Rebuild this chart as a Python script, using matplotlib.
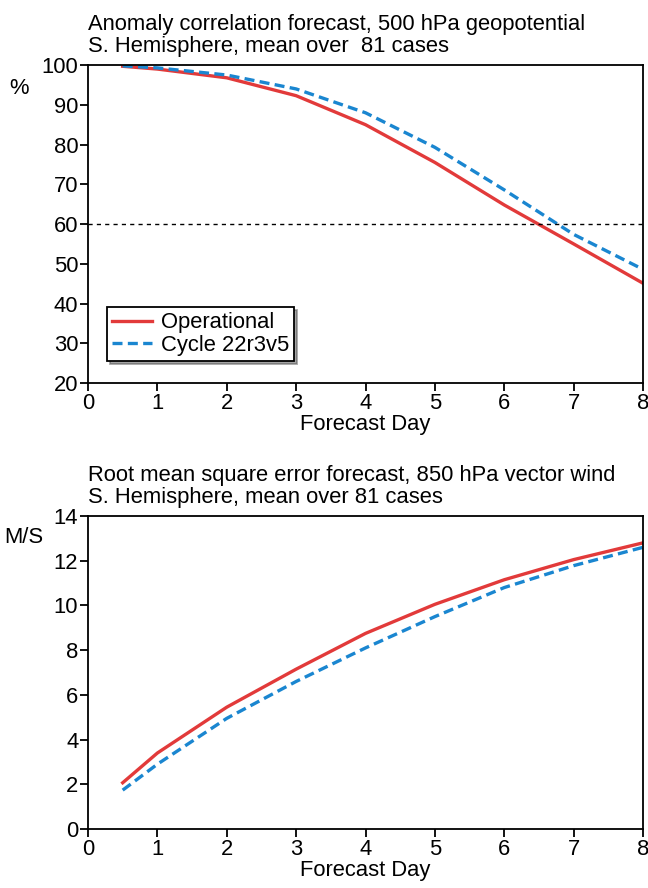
import matplotlib.pyplot as plt

plt.rcParams['font.family'] = ['Liberation Sans', 'DejaVu Sans']

days = [0.5, 1, 2, 3, 4, 5, 6, 7, 8]

# anomaly correlation, 500 hPa geopotential (%)
acc_oper = [99.7, 99.0, 96.8, 92.3, 85.0, 75.5, 64.8, 55.0, 45.1]
acc_new = [99.8, 99.3, 97.5, 94.0, 88.0, 79.3, 68.6, 57.4, 48.6]

# rms error, 850 hPa vector wind (m/s)
rms_oper = [2.07, 3.4, 5.45, 7.15, 8.75, 10.05, 11.15, 12.05, 12.8]
rms_new = [1.74, 2.9, 4.95, 6.6, 8.1, 9.5, 10.8, 11.78, 12.6]

series_names = ['Operational', 'Cycle 22r3v5']
red = '#e23a3a'
blue = '#1a86d0'
fs = 15.8

fig = plt.figure(figsize=(6.48, 8.88), dpi=100)
ax1 = fig.add_axes([0.1358, 0.5687, 0.8565, 0.358])
ax2 = fig.add_axes([0.1358, 0.0664, 0.8565, 0.3525])

for ax in (ax1, ax2):
    for s in ax.spines.values():
        s.set_linewidth(1.3)
    ax.tick_params(direction='out', length=6, width=1.3, labelsize=fs, pad=1)
    ax.set_xlim(0, 8)
    ax.set_xticks(range(0, 9))
    ax.set_xlabel('Forecast Day', fontsize=fs, labelpad=0)

# top panel
ax1.plot(days, acc_oper, color=red, lw=2.4, label=series_names[0])
ax1.plot(days, acc_new, color=blue, lw=2.4, ls=(0, (3, 1.6)), label=series_names[1])
ax1.axhline(60, color='black', lw=1, ls=(0, (3, 3)))
ax1.set_ylim(20, 100)
ax1.set_yticks(range(20, 101, 10))
ax1.text(-0.125, 0.925, '%', transform=ax1.transAxes, fontsize=fs, ha='center', va='center')
ax1.text(0, 1.025, 'Anomaly correlation forecast, 500 hPa geopotential\nS. Hemisphere, mean over  81 cases',
         transform=ax1.transAxes, fontsize=fs, ha='left', va='bottom', linespacing=1.1)
leg = ax1.legend(loc='lower left', bbox_to_anchor=(0.034, 0.069), borderaxespad=0,
                 fancybox=False, shadow=True, edgecolor='black', fontsize=fs,
                 handlelength=1.8, handletextpad=0.4, borderpad=0.25, labelspacing=0.05,
                 framealpha=1)
leg.get_frame().set_linewidth(1.3)

# bottom panel
ax2.plot(days, rms_oper, color=red, lw=2.4)
ax2.plot(days, rms_new, color=blue, lw=2.4, ls=(0, (3, 1.6)))
ax2.set_ylim(0, 14)
ax2.set_yticks(range(0, 15, 2))
ax2.text(-0.115, 0.93, 'M/S', transform=ax2.transAxes, fontsize=fs, ha='center', va='center')
ax2.text(0, 1.025, 'Root mean square error forecast, 850 hPa vector wind\nS. Hemisphere, mean over 81 cases',
         transform=ax2.transAxes, fontsize=fs, ha='left', va='bottom', linespacing=1.1)

fig.savefig('out.png', dpi=100)
